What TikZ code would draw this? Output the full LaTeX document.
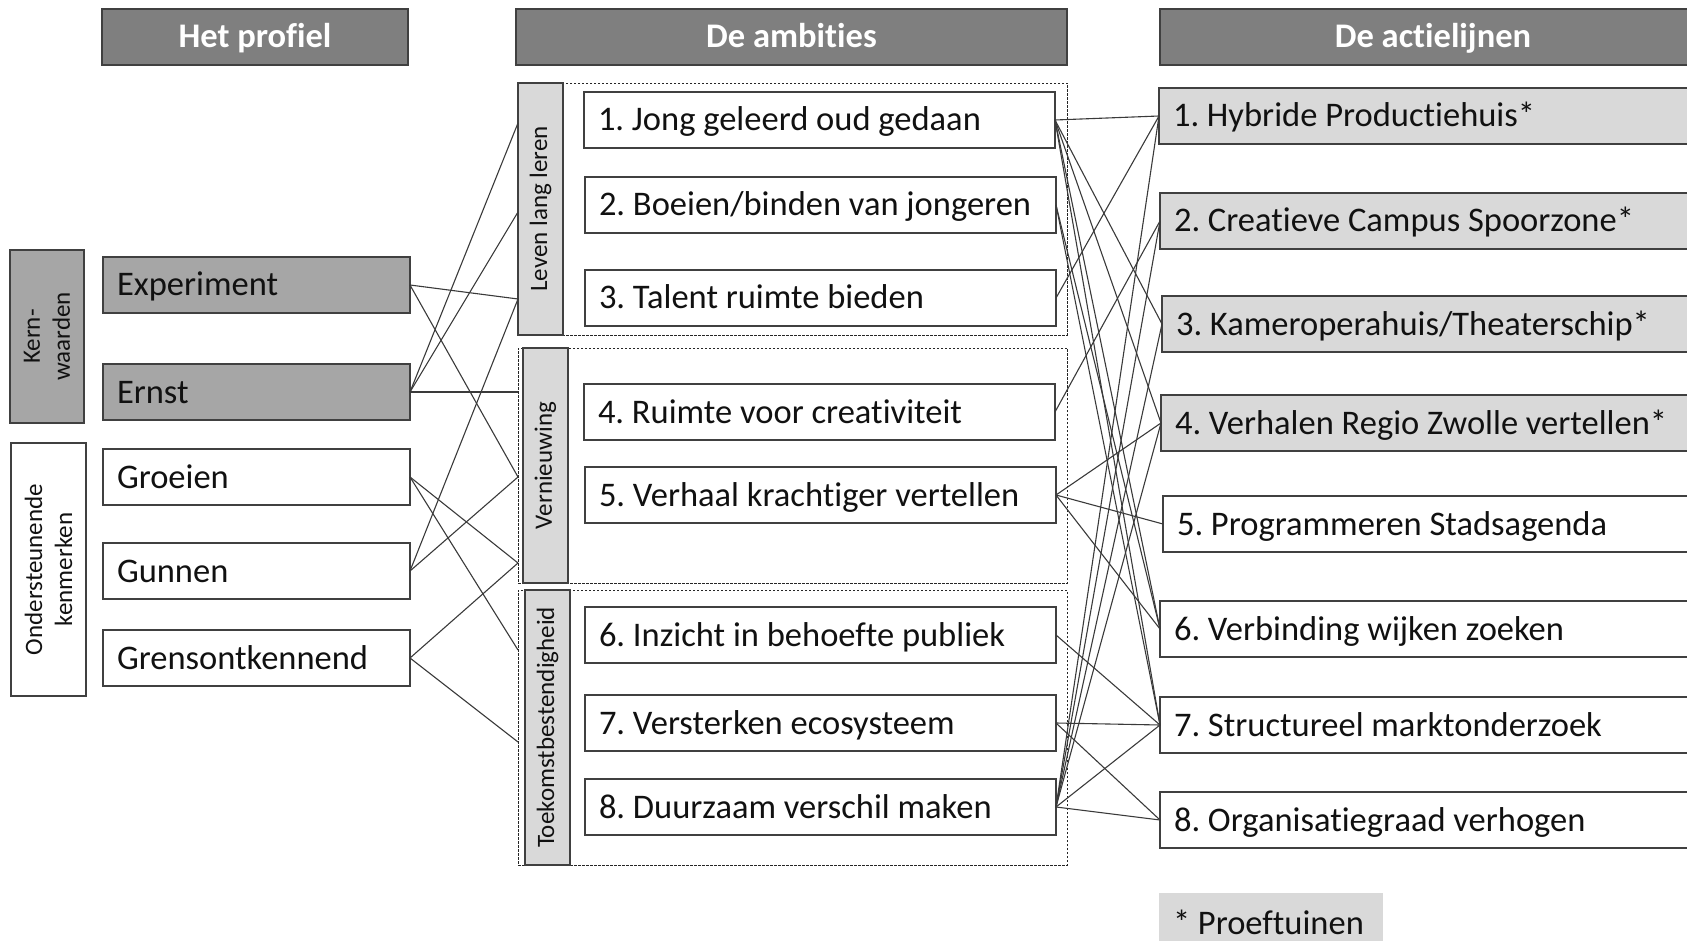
\documentclass[tikz,border=0pt]{standalone}
\usepackage{fontspec}
\setmainfont{Carlito}[RawFeature={-liga;-calt;-clig}]
\usetikzlibrary{calc}
\definecolor{hdr}{HTML}{7F7F7F}
\definecolor{darkfill}{HTML}{A6A6A6}
\definecolor{lightfill}{HTML}{D9D9D9}
\definecolor{edgec}{HTML}{404040}
\definecolor{wirec}{HTML}{3A3A3A}
\definecolor{txt}{HTML}{111111}
\newcommand\bodyfont{\fontsize{34.5}{41}\selectfont\frenchspacing}
\newcommand\sidefont{\fontsize{25}{30}\selectfont}
\begin{document}
\begin{tikzpicture}[x=1pt,y=-1pt,
  every node/.style={inner sep=0pt, outer sep=0pt, text=txt},
  box/.style={draw=edgec, line width=1.3pt, anchor=north west, font=\bodyfont,
    text height=31pt, text depth=9pt, inner xsep=14pt, align=left, minimum height=56pt,
    execute at begin node={\leavevmode\hbox\bgroup\spaceskip=0pt\xspaceskip=0pt\relax},
    execute at end node={\egroup}},
  lbox/.style={box, text width=279pt},
  mbox/.style={box, text width=443pt},
  rbox/.style={box, text width=518pt},
  hdrbox/.style={draw=edgec, line width=1.3pt, fill=hdr, anchor=north west, minimum height=56pt,
    font=\bfseries\bodyfont, text=white, text height=31pt, text depth=9pt},
  grp/.style={draw=black!85, dash pattern=on 2.5pt off 1.5pt, line width=0.9pt, anchor=north west},
  side/.style={draw=edgec, line width=1.3pt, fill=lightfill, rotate=90, font=\sidefont, align=center},
  wire/.style={draw=wirec, line width=1.1pt},
]
\useasboundingbox (0,0) rectangle (1687,941);
\clip (0,0) rectangle (1687,941);

% headers
\node[hdrbox, minimum width=306pt] (h1) at (102,9) {Het profiel};
\node[hdrbox, minimum width=551pt] (h2) at (516,9) {De ambities};
\node[hdrbox, minimum width=546pt] (h3) at (1160,9) {De actielijnen};

% left column
\node[side, fill=darkfill, minimum width=173pt, minimum height=74pt] (kern) at (47,336.5) {Kern-\\waarden};
\node[side, fill=white, minimum width=253pt, minimum height=75pt] (onder) at (48.5,569.5) {Ondersteunende\\kenmerken};
\node[lbox, fill=darkfill] (exp) at (103,257) {Experiment};
\node[lbox, fill=darkfill] (ern) at (103,364) {Ernst};
\node[lbox, fill=white] (gro) at (103,449) {Groeien};
\node[lbox, fill=white] (gun) at (103,543) {Gunnen};
\node[lbox, fill=white] (gre) at (103,630) {Grensontkennend};

% groups
\node[grp, minimum width=549pt, minimum height=252pt] (grpL) at (518,83) {};
\node[grp, minimum width=549pt, minimum height=235pt] (grpV) at (518,348) {};
\node[grp, minimum width=549pt, minimum height=275pt] (grpT) at (518,590) {};
\node[side, minimum width=252pt, minimum height=45pt] (sL) at (540.5,209) {Leven lang leren};
\node[side, minimum width=235pt, minimum height=45pt] (sV) at (545.5,465.5) {Vernieuwing};
\node[side, minimum width=275pt, minimum height=45pt] (sT) at (547.5,727.5) {Toekomstbestendigheid};

% ambitions
\node[mbox, fill=white] (b1) at (584,92) {1. Jong geleerd oud gedaan};
\node[mbox, fill=white] (b2) at (585,177) {2. Boeien/binden van jongeren};
\node[mbox, fill=white] (b3) at (585,270) {3. Talent ruimte bieden};
\node[mbox, fill=white] (b4) at (584,384) {4. Ruimte voor creativiteit};
\node[mbox, fill=white] (b5) at (585,467) {5. Verhaal krachtiger vertellen};
\node[mbox, fill=white] (b6) at (585,607) {6. Inzicht in behoefte publiek};
\node[mbox, fill=white] (b7) at (585,695) {7. Versterken ecosysteem};
\node[mbox, fill=white] (b8) at (585,779) {8. Duurzaam verschil maken};

% action lines
\node[rbox, fill=lightfill] (r1) at (1159,88) {1. Hybride Productiehuis*};
\node[rbox, fill=lightfill] (r2) at (1160,193) {2. Creatieve Campus Spoorzone*};
\node[rbox, fill=lightfill] (r3) at (1162,296) {3. Kameroperahuis/Theaterschip*};
\node[rbox, fill=lightfill] (r4) at (1161,395) {4. Verhalen Regio Zwolle vertellen*};
\node[rbox, fill=white] (r5) at (1163,496) {5. Programmeren Stadsagenda};
\node[rbox, fill=white] (r6) at (1160,601) {6. Verbinding wijken zoeken};
\node[rbox, fill=white] (r7) at (1160,697) {7. Structureel marktonderzoek};
\node[rbox, fill=white] (r8) at (1160,792) {8. Organisatiegraad verhogen};
\node[fill=lightfill, anchor=north west, minimum width=224pt, minimum height=60pt, font=\bodyfont,
  inner xsep=14pt, text height=31pt, text depth=9pt,
  execute at begin node={\hbox\bgroup\spaceskip=0pt\relax}, execute at end node={\hfill\egroup},
  text width=196pt] (proef) at (1159,893) {* Proeftuinen};

% connector ends on the groups
\coordinate (L1) at (518,123);
\coordinate (L2) at (518,212);
\coordinate (L3) at (518,299);
\coordinate (V1) at (518,392);
\coordinate (V2) at (518,477);
\coordinate (V3) at (518,563);
\coordinate (T1) at (518,650);
\coordinate (T2) at (518,742);

\foreach \a/\b in {exp/L3, exp/V2, ern/L1, ern/L2, ern/V1, gro/V3, gro/T1, gun/L3, gun/V2, gre/V3, gre/T2}
  \draw[wire] (\a.east) -- (\b);

\foreach \a/\b in {b1/r1, b1/r3, b1/r4, b1/r6, b1/r7, b2/r6, b2/r7, b3/r1, b4/r2,
                   b5/r4, b5/r5, b5/r6, b6/r7, b7/r7, b7/r8,
                   b8/r1, b8/r2, b8/r3, b8/r4, b8/r7, b8/r8}
  \draw[wire] (\a.east) -- (\b.west);
\end{tikzpicture}
\end{document}
